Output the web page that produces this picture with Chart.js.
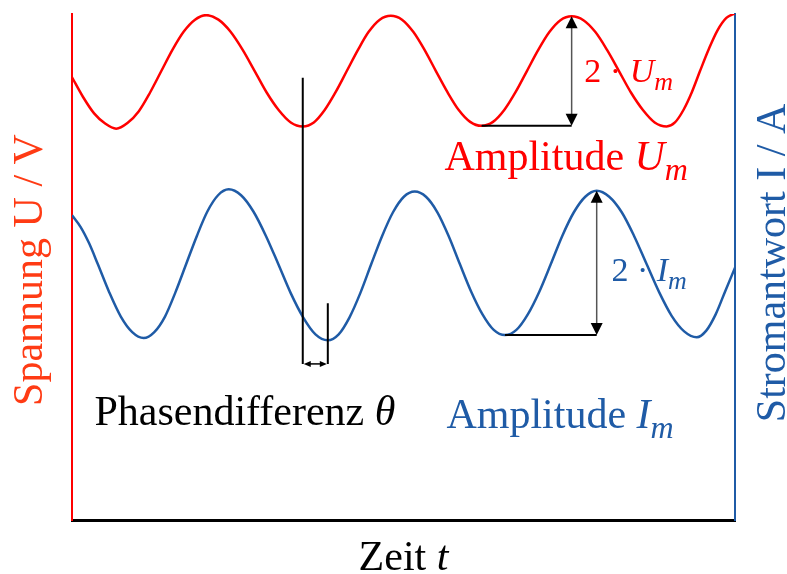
<!DOCTYPE html>
<html>
<head>
<meta charset="utf-8">
<script src="https://cdn.jsdelivr.net/npm/chart.js@4.4.0/dist/chart.umd.min.js"></script>
<style>
  html, body { margin: 0; padding: 0; background: #fff; }
  #wrap { width: 787px; height: 574px; position: relative; }
</style>
</head>
<body>
<div id="wrap"><canvas id="chart"></canvas></div>
<script>
// Zeit (willkuerliche Einheit) und Werte
const timeU = [0, 0.6, 1.2, 1.8, 2.4, 3.01, 3.63, 4.24, 4.85, 5.46, 6.07, 6.68, 7.29, 7.95, 8.6, 9.26,
  9.92, 10.57, 11.22, 11.88, 12.53, 13.13, 13.72, 14.32, 14.92, 15.52, 16.1, 16.71, 17.31, 17.92, 18.54,
  19.15, 19.76, 20.38, 21.0, 21.62, 22.24, 22.86, 23.47, 24.09, 24.7, 25.31, 25.92, 26.52, 27.13, 27.77,
  28.42, 29.06, 29.7, 30.35, 31.0, 31.64, 32.29, 32.74, 33.2, 33.65, 34.1, 34.58, 35.05, 35.53, 36.0];
const voltage = [-0.11, -0.46, -0.75, -0.93, -1.02, -0.92, -0.71, -0.38, 0, 0.38, 0.7, 0.91, 0.99,
  0.91, 0.7, 0.38, 0, -0.38, -0.69, -0.91, -0.98, -0.91, -0.69, -0.37, 0, 0.37, 0.69, 0.91, 0.98,
  0.91, 0.69, 0.37, 0, -0.37, -0.69, -0.9, -0.97, -0.9, -0.69, -0.37, 0, 0.37, 0.69, 0.9, 0.97,
  0.9, 0.69, 0.37, 0, -0.38, -0.69, -0.91, -0.98, -0.91, -0.69, -0.38, 0, 0.39, 0.72, 0.94, 1.02];

const timeI = [0, 0.47, 0.93, 1.4, 2.02, 2.65, 3.27, 3.89, 4.47, 5.05, 5.62, 6.2, 6.78, 7.35, 7.93,
  8.51, 9.18, 9.85, 10.53, 11.2, 11.87, 12.55, 13.22, 13.89, 14.48, 15.07, 15.66, 16.25, 16.84, 17.43,
  18.02, 18.61, 19.22, 19.84, 20.45, 21.06, 21.67, 22.29, 22.9, 23.51, 24.13, 24.75, 25.38, 26.0, 26.62,
  27.25, 27.87, 28.49, 29.17, 29.85, 30.52, 31.2, 31.88, 32.56, 33.24, 33.92, 34.44, 34.95, 35.48, 36.0];
const current = [0.66, 0.5, 0.28, 0, -0.38, -0.71, -0.92, -1.0, -0.92, -0.71, -0.38, 0, 0.38, 0.71,
  0.93, 1.01, 0.93, 0.71, 0.38, 0, -0.39, -0.72, -0.95, -1.03, -0.95, -0.72, -0.39, 0, 0.38, 0.7, 0.91,
  0.98, 0.91, 0.7, 0.38, 0, -0.37, -0.68, -0.89, -0.96, -0.89, -0.68, -0.37, 0, 0.38, 0.7, 0.91, 0.99,
  0.91, 0.7, 0.38, 0, -0.38, -0.7, -0.91, -0.99, -0.9, -0.68, -0.36, -0.05];

const xTitle = ['Zeit ', 't'];
const uTitle = 'Spannung U / V';
const iTitle = 'Stromantwort I / A';

// markierte Stellen (Indizes in die Datenreihen)
const uPeak = 44, uTrough = 36, uPhase = 20;
const iPeak = 47, iTrough = 39, iPhase = 23;

const RED = '#ff0000';
const BLUE = '#1f5ba6';
const FONT = "'Liberation Serif', 'Times New Roman', serif";

function toPoints(xs, ys) {
  return xs.map((x, i) => ({ x: x, y: ys[i] }));
}

function drawParts(ctx, parts, x, y) {
  let cx = x;
  parts.forEach(p => {
    ctx.font = (p.italic ? 'italic ' : '') + p.size + 'px ' + FONT;
    ctx.fillText(p.text, cx, y + (p.dy || 0));
    cx += ctx.measureText(p.text).width;
  });
}

function head(ctx, x, y, dir, w, l) {
  // dir: 'up', 'down', 'left', 'right' - Spitze liegt bei (x, y)
  ctx.beginPath();
  ctx.moveTo(x, y);
  if (dir === 'up') { ctx.lineTo(x - w / 2, y + l); ctx.lineTo(x + w / 2, y + l); }
  if (dir === 'down') { ctx.lineTo(x - w / 2, y - l); ctx.lineTo(x + w / 2, y - l); }
  if (dir === 'left') { ctx.lineTo(x + l, y - w / 2); ctx.lineTo(x + l, y + w / 2); }
  if (dir === 'right') { ctx.lineTo(x - l, y - w / 2); ctx.lineTo(x - l, y + w / 2); }
  ctx.closePath();
  ctx.fill();
}

function amplitudeMark(ctx, xs, yScale, t, tLow, vTop, vLow) {
  const x = xs.getPixelForValue(t);
  const x0 = xs.getPixelForValue(tLow);
  const yT = yScale.getPixelForValue(vTop);
  const yB = yScale.getPixelForValue(vLow);
  ctx.strokeStyle = '#000';
  ctx.lineWidth = 2;
  ctx.beginPath();
  ctx.moveTo(x0, yB); ctx.lineTo(x, yB);
  ctx.stroke();
  ctx.strokeStyle = '#555';
  ctx.lineWidth = 1.5;
  ctx.beginPath();
  ctx.moveTo(x, yT + 10); ctx.lineTo(x, yB - 10);
  ctx.stroke();
  ctx.fillStyle = '#000';
  head(ctx, x, yT, 'up', 12, 12);
  head(ctx, x, yB, 'down', 12, 12);
}

const annotations = {
  id: 'annotations',
  afterDatasetsDraw(chart) {
    const ctx = chart.ctx;
    const xs = chart.scales.x, yu = chart.scales.y, yi = chart.scales.y1;
    ctx.save();

    amplitudeMark(ctx, xs, yu, timeU[uPeak], timeU[uTrough], voltage[uPeak], voltage[uTrough]);
    amplitudeMark(ctx, xs, yi, timeI[iPeak], timeI[iTrough], current[iPeak], current[iTrough]);

    // Phasendifferenz
    const p1 = xs.getPixelForValue(timeU[uPhase]);
    const p2 = xs.getPixelForValue(timeI[iPhase]);
    const yBot = yi.getPixelForValue(-1.35);
    ctx.strokeStyle = '#000';
    ctx.lineWidth = 2;
    ctx.beginPath();
    ctx.moveTo(p1, yu.getPixelForValue(-0.12)); ctx.lineTo(p1, yBot);
    ctx.moveTo(p2, yi.getPixelForValue(-0.53)); ctx.lineTo(p2, yBot);
    ctx.stroke();
    ctx.lineWidth = 1.5;
    ctx.beginPath();
    ctx.moveTo(p1 + 4, yBot); ctx.lineTo(p2 - 4, yBot);
    ctx.stroke();
    ctx.fillStyle = '#000';
    head(ctx, p1 + 1, yBot, 'left', 6, 7);
    head(ctx, p2 - 1, yBot, 'right', 6, 7);

    ctx.textAlign = 'left';
    ctx.textBaseline = 'alphabetic';
    ctx.fillStyle = RED;
    drawParts(ctx, [{ text: '2 · ', size: 34 }, { text: 'U', size: 34, italic: true },
      { text: 'm', size: 26, italic: true, dy: 8 }],
      xs.getPixelForValue(27.82), yu.getPixelForValue(-0.19));
    drawParts(ctx, [{ text: 'Amplitude ', size: 42 }, { text: 'U', size: 42, italic: true },
      { text: 'm', size: 32, italic: true, dy: 10 }],
      xs.getPixelForValue(20.22), yu.getPixelForValue(-1.75));

    ctx.fillStyle = BLUE;
    drawParts(ctx, [{ text: '2 · ', size: 34 }, { text: 'I', size: 34, italic: true },
      { text: 'm', size: 26, italic: true, dy: 8 }],
      xs.getPixelForValue(29.29), yi.getPixelForValue(-0.23));
    drawParts(ctx, [{ text: 'Amplitude ', size: 42 }, { text: 'I', size: 42, italic: true },
      { text: 'm', size: 32, italic: true, dy: 10 }],
      xs.getPixelForValue(20.33), yi.getPixelForValue(-2.22));

    ctx.fillStyle = '#000';
    drawParts(ctx, [{ text: 'Phasendifferenz ', size: 42 }, { text: 'θ', size: 42, italic: true }],
      xs.getPixelForValue(1.22), yi.getPixelForValue(-2.18));
    ctx.restore();
  },
  afterDraw(chart) {
    const ctx = chart.ctx;
    const a = chart.chartArea;
    ctx.save();
    ctx.textBaseline = 'alphabetic';

    // x-Achsentitel
    ctx.fillStyle = '#000';
    ctx.font = '42px ' + FONT;
    const w1 = ctx.measureText(xTitle[0]).width;
    ctx.font = 'italic 42px ' + FONT;
    const w2 = ctx.measureText(xTitle[1]).width;
    const xStart = (a.left + a.right) / 2 - (w1 + w2) / 2;
    drawParts(ctx, [{ text: xTitle[0], size: 42 }, { text: xTitle[1], size: 42, italic: true }], xStart, 570);

    ctx.textAlign = 'center';
    ctx.font = '42px ' + FONT;
    ctx.save();
    ctx.translate(42, (a.top + a.bottom) / 2 + 3);
    ctx.rotate(-Math.PI / 2);
    ctx.fillStyle = '#ff3b14';
    ctx.fillText(uTitle, 0, 0);
    ctx.restore();

    ctx.save();
    ctx.translate(785, (a.top + a.bottom) / 2 - 4);
    ctx.rotate(-Math.PI / 2);
    ctx.fillStyle = BLUE;
    ctx.fillText(iTitle, 0, 0);
    ctx.restore();
    ctx.restore();
  }
};

const hiddenGrid = { display: false, drawTicks: false };

new Chart(document.getElementById('chart'), {
  type: 'line',
  data: {
    datasets: [
      { label: 'U', data: toPoints(timeU, voltage), yAxisID: 'y', borderColor: RED, borderWidth: 2.5,
        cubicInterpolationMode: 'monotone', pointRadius: 0, fill: false },
      { label: 'I', data: toPoints(timeI, current), yAxisID: 'y1', borderColor: BLUE, borderWidth: 2.5,
        cubicInterpolationMode: 'monotone', pointRadius: 0, fill: false }
    ]
  },
  options: {
    responsive: true,
    maintainAspectRatio: false,
    animation: false,
    layout: { padding: { left: 72, right: 52, top: 14, bottom: 54 } },
    plugins: { legend: { display: false }, tooltip: { enabled: false } },
    scales: {
      x: { type: 'linear', min: 0, max: 36, grid: hiddenGrid, ticks: { display: false },
        border: { color: '#000', width: 3 } },
      y: { position: 'left', min: -7.95, max: 1.01, grid: hiddenGrid, ticks: { display: false },
        border: { color: RED, width: 2 } },
      y1: { position: 'right', min: -3.46, max: 3.38, grid: hiddenGrid, ticks: { display: false },
        border: { color: BLUE, width: 2 } }
    }
  },
  plugins: [annotations]
});
</script>
</body>
</html>
